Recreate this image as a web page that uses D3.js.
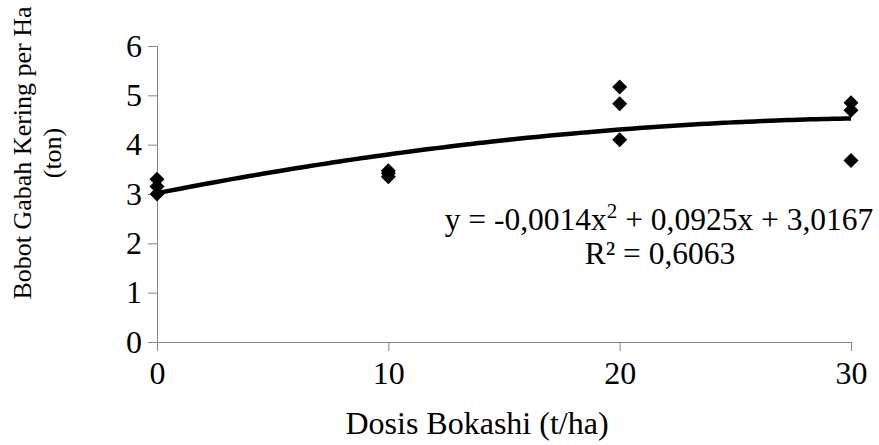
<!DOCTYPE html>
<html>
<head>
<meta charset="utf-8">
<script src="https://cdn.jsdelivr.net/npm/d3@7"></script>
<style>
  body { margin: 0; background: #fff; }
  svg text { font-family: "Liberation Serif", "Times New Roman", serif; fill: #000; }
</style>
</head>
<body>
<div id="chart"></div>
<script>
// Data (3 replicates per dose)
var doses = [0, 0, 0, 10, 10, 10, 20, 20, 20, 30, 30, 30];
var yields = [3.30, 3.15, 3.00, 3.47, 3.35, 3.42, 5.17, 4.83, 4.10, 4.85, 4.70, 3.68];

// Trendline coefficients as printed on the chart (a x^2 + b x + c)
var trendCoef = [-0.0014, 0.0925, 3.0167];
var xTicks = [0, 10, 20, 30];
var yTicks = [0, 1, 2, 3, 4, 5, 6];

var W = 879, H = 445;
var margin = { top: 46, right: 28, bottom: 103, left: 157 };
var width = W - margin.left - margin.right,
    height = H - margin.top - margin.bottom;

var x = d3.scaleLinear().domain([0, 30]).range([0, width]);
var y = d3.scaleLinear().domain([0, 6]).range([height, 0]);

var svg = d3.select("#chart").append("svg")
  .attr("width", W).attr("height", H);

var g = svg.append("g")
  .attr("transform", "translate(" + margin.left + "," + margin.top + ")");

// Axes
var yAxis = g.append("g")
  .call(d3.axisLeft(y).tickValues(yTicks).tickSize(9).tickPadding(6).tickFormat(d3.format("d")));
var xAxis = g.append("g")
  .attr("transform", "translate(0," + height + ")")
  .call(d3.axisBottom(x).tickValues(xTicks).tickSize(9).tickPadding(10).tickFormat(d3.format("d")));

[xAxis, yAxis].forEach(function (a) {
  a.select(".domain").attr("stroke", "#868686");
  a.selectAll(".tick line").attr("stroke", "#868686");
  a.selectAll(".tick text").style("font-size", "32px").attr("fill", "#000");
});
xAxis.select(".domain").attr("d", "M-9,0.5H" + width);
yAxis.select(".domain").attr("d", "M-9,0.5H0.5V" + (height + 9));

// Trendline
var curveX = d3.range(0, 30.01, 0.5);
var line = d3.line()
  .x(function (d) { return x(d); })
  .y(function (d) { return y(trendCoef[0] * d * d + trendCoef[1] * d + trendCoef[2]); })
  .curve(d3.curveMonotoneX);

g.append("path")
  .datum(curveX)
  .attr("fill", "none")
  .attr("stroke", "#000")
  .attr("stroke-width", 4.5)
  .attr("d", line);

// Diamond markers
var s = 7.5;
g.selectAll(".pt")
  .data(d3.zip(doses, yields))
  .enter().append("path")
  .attr("class", "pt")
  .attr("transform", function (d) { return "translate(" + x(d[0]) + "," + y(d[1]) + ")"; })
  .attr("d", "M0," + (-s) + "L" + s + ",0L0," + s + "L" + (-s) + ",0Z")
  .attr("fill", "#000");

// Equation
var eq = svg.append("text")
  .attr("x", 659).attr("y", 230)
  .attr("text-anchor", "middle")
  .style("font-size", "31.5px");
eq.append("tspan").text("y = -0,0014x");
eq.append("tspan").attr("dy", -12).style("font-size", "21px").text("2");
eq.append("tspan").attr("dy", 12).text(" + 0,0925x + 3,0167");

svg.append("text")
  .attr("x", 660).attr("y", 264)
  .attr("text-anchor", "middle")
  .style("font-size", "31.5px")
  .text("R\u00b2 = 0,6063");

// Axis titles
svg.append("text")
  .attr("x", 477).attr("y", 434)
  .attr("text-anchor", "middle")
  .style("font-size", "32px")
  .text("Dosis Bokashi (t/ha)");

var yt = svg.append("text")
  .attr("transform", "translate(31,153) rotate(-90)")
  .attr("text-anchor", "middle")
  .style("font-size", "26px");
yt.append("tspan").attr("x", 0).attr("dy", 0).text("Bobot Gabah Kering per Ha");
yt.append("tspan").attr("x", 0).attr("dy", 30).text("(ton)");
</script>
</body>
</html>
